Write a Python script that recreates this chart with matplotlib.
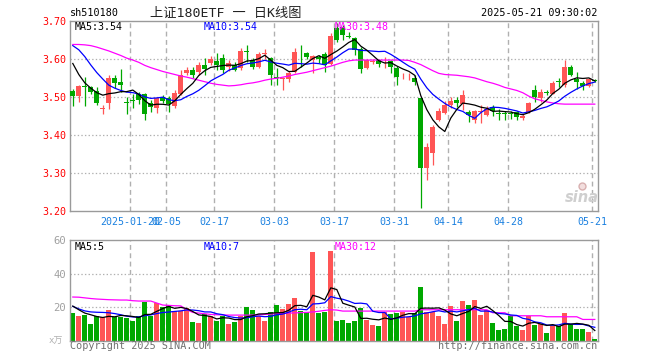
import numpy as np
import pandas as pd
import matplotlib
matplotlib.use("Agg")
import matplotlib.pyplot as plt

# ---------------- data ----------------
opens = [3.517, 3.503, 3.530, 3.526, 3.517, 3.468, 3.484, 3.552, 3.541, 3.488,
         3.494, 3.510, 3.508, 3.484, 3.472, 3.501, 3.498, 3.476, 3.508, 3.563,
         3.572, 3.567, 3.585, 3.590, 3.595, 3.603, 3.580, 3.585, 3.576, 3.621,
         3.598, 3.580, 3.614, 3.603, 3.554, 3.548, 3.548, 3.567, 3.615, 3.616,
         3.598, 3.605, 3.614, 3.587, 3.682, 3.686, 3.661, 3.656, 3.628, 3.576,
         3.594, 3.598, 3.592, 3.595, 3.578, 3.555, 3.555, 3.550, 3.497, 3.313,
         3.353, 3.440, 3.458, 3.480, 3.493, 3.482, 3.462, 3.440, 3.461, 3.453,
         3.475, 3.459, 3.459, 3.459, 3.462, 3.445, 3.462, 3.520, 3.497, 3.514,
         3.510, 3.543, 3.532, 3.581, 3.548, 3.537, 3.530, 3.545]
highs = [3.522, 3.532, 3.553, 3.530, 3.528, 3.480, 3.558, 3.560, 3.574, 3.502,
         3.508, 3.515, 3.512, 3.493, 3.502, 3.505, 3.503, 3.520, 3.572, 3.580,
         3.580, 3.592, 3.603, 3.608, 3.616, 3.614, 3.597, 3.592, 3.629, 3.638,
         3.603, 3.618, 3.626, 3.607, 3.576, 3.554, 3.568, 3.629, 3.638, 3.620,
         3.612, 3.612, 3.618, 3.670, 3.696, 3.690, 3.672, 3.658, 3.633, 3.600,
         3.600, 3.601, 3.605, 3.598, 3.582, 3.565, 3.563, 3.559, 3.497, 3.379,
         3.427, 3.472, 3.490, 3.500, 3.500, 3.520, 3.466, 3.466, 3.480, 3.476,
         3.480, 3.470, 3.465, 3.464, 3.465, 3.455, 3.488, 3.533, 3.523, 3.520,
         3.542, 3.552, 3.597, 3.584, 3.567, 3.542, 3.551, 3.548]
lows = [3.477, 3.488, 3.477, 3.510, 3.480, 3.455, 3.470, 3.525, 3.515, 3.455,
        3.472, 3.483, 3.440, 3.462, 3.459, 3.485, 3.462, 3.471, 3.505, 3.558,
        3.552, 3.560, 3.560, 3.585, 3.572, 3.565, 3.570, 3.568, 3.572, 3.594,
        3.575, 3.576, 3.600, 3.533, 3.533, 3.519, 3.541, 3.565, 3.580, 3.600,
        3.565, 3.590, 3.567, 3.585, 3.645, 3.650, 3.655, 3.612, 3.563, 3.574,
        3.588, 3.580, 3.578, 3.563, 3.533, 3.548, 3.545, 3.533, 3.208, 3.282,
        3.322, 3.438, 3.455, 3.471, 3.474, 3.467, 3.436, 3.432, 3.432, 3.450,
        3.452, 3.440, 3.440, 3.442, 3.440, 3.440, 3.460, 3.488, 3.487, 3.505,
        3.508, 3.528, 3.528, 3.555, 3.523, 3.520, 3.528, 3.540]
closes = [3.504, 3.530, 3.528, 3.515, 3.484, 3.471, 3.550, 3.537, 3.532, 3.485,
          3.491, 3.492, 3.455, 3.474, 3.497, 3.490, 3.482, 3.512, 3.558, 3.572,
          3.560, 3.585, 3.575, 3.602, 3.584, 3.572, 3.591, 3.572, 3.623, 3.619,
          3.580, 3.614, 3.617, 3.559, 3.550, 3.550, 3.563, 3.620, 3.613, 3.605,
          3.609, 3.600, 3.586, 3.662, 3.651, 3.664, 3.659, 3.624, 3.575, 3.598,
          3.596, 3.588, 3.594, 3.581, 3.553, 3.557, 3.557, 3.541, 3.313, 3.370,
          3.423, 3.464, 3.480, 3.490, 3.484, 3.506, 3.453, 3.464, 3.463, 3.470,
          3.465, 3.457, 3.457, 3.457, 3.449, 3.451, 3.484, 3.502, 3.515, 3.512,
          3.537, 3.540, 3.581, 3.559, 3.539, 3.529, 3.547, 3.542]
volumes = [16.7, 14.9, 15.5, 10.2, 14.9, 13.9, 18.3, 14.1, 14.3, 13.7,
           12.0, 14.9, 23.3, 14.9, 22.7, 20.3, 21.1, 17.7, 17.7, 19.3,
           11.4, 10.8, 16.1, 14.7, 12.0, 14.9, 10.0, 11.4, 14.9, 20.3,
           18.3, 14.9, 12.0, 16.9, 21.3, 18.9, 21.9, 25.7, 17.9, 16.9,
           53.2, 16.7, 17.3, 53.8, 11.8, 12.4, 10.8, 11.8, 19.7, 12.4,
           9.4, 9.0, 17.3, 15.7, 16.7, 17.3, 13.9, 16.7, 32.3, 17.3,
           16.9, 14.9, 10.0, 20.9, 11.8, 23.7, 21.3, 24.3, 15.3, 18.3,
           10.8, 6.4, 7.0, 14.9, 9.0, 6.4, 14.9, 9.4, 10.0, 4.8,
           9.0, 9.0, 16.7, 10.0, 7.0, 7.0, 5.4, 1.0]

# moving-average values before the window fills
ma5_head = [3.589, 3.560, 3.538, 3.524]
ma10_head = [3.636, 3.625, 3.607, 3.585, 3.565, 3.548, 3.532, 3.524, 3.518]
ma30 = [3.639, 3.639, 3.638, 3.636, 3.632, 3.627, 3.622, 3.616, 3.610, 3.603,
        3.598, 3.592, 3.584, 3.578, 3.573, 3.568, 3.564, 3.560, 3.556, 3.553,
        3.549, 3.545, 3.541, 3.537, 3.534, 3.532, 3.530, 3.531, 3.533, 3.536,
        3.538, 3.541, 3.545, 3.548, 3.550, 3.553, 3.556, 3.560, 3.563, 3.566,
        3.570, 3.574, 3.578, 3.582, 3.587, 3.592, 3.596, 3.598, 3.598, 3.598,
        3.598, 3.598, 3.598, 3.598, 3.598, 3.598, 3.597, 3.592, 3.586, 3.578,
        3.570, 3.563, 3.560, 3.559, 3.558, 3.556, 3.554, 3.551, 3.546, 3.541,
        3.537, 3.532, 3.526, 3.522, 3.518, 3.512, 3.503, 3.496, 3.492, 3.488,
        3.485, 3.483, 3.482, 3.482, 3.482, 3.482, 3.482, 3.482]
vol_ma5_head = [20.7, 18.5, 16.5, 15.5]
vol_ma10_head = [20.5, 19.0, 17.8, 17.2, 17.0, 16.9, 16.7, 16.2, 15.5]
vol_ma30 = [26.1, 26.0, 25.6, 25.2, 24.9, 24.7, 24.5, 24.4, 24.3, 24.3,
            23.9, 23.7, 23.7, 23.7, 22.5, 21.3, 21.1, 20.9, 20.8, 18.5,
            16.9, 16.5, 16.1, 15.7, 15.5, 15.4, 15.3, 15.3, 15.3, 15.3,
            15.3, 15.5, 15.7, 15.9, 16.1, 16.3, 16.5, 16.6, 16.8, 16.9,
            17.2, 17.6, 18.1, 18.5, 18.3, 17.7, 17.7, 17.7, 17.7, 17.7,
            17.7, 17.7, 17.7, 17.7, 17.7, 17.7, 17.7, 17.7, 18.5, 18.5,
            18.5, 18.5, 18.5, 18.5, 18.5, 18.5, 18.5, 18.5, 18.5, 18.5,
            16.7, 16.7, 16.7, 14.9, 14.9, 14.9, 14.9, 14.9, 14.9, 14.3,
            14.3, 14.3, 14.3, 14.3, 14.3, 12.7, 12.7, 12.7]

tick_index = [10, 16, 24, 34, 44, 54, 63, 73, 87]
tick_labels = ["2025-01-20", "02-05", "02-17", "03-03", "03-17",
               "03-31", "04-14", "04-28", "05-21"]
price_ticks = [3.20, 3.30, 3.40, 3.50, 3.60, 3.70]
vol_ticks = [20, 40, 60]

code = "sh510180"
title = "上证180ETF 一 日K线图"
stamp = "2025-05-21 09:30:02"
price_ma_labels = ["MA5:3.54", "MA10:3.54", "MA30:3.48"]
vol_ma_labels = ["MA5:5", "MA10:7", "MA30:12"]

# ---------------- derived ----------------
o = np.array(opens); h = np.array(highs); l = np.array(lows); c = np.array(closes)
v = np.array(volumes)
n = len(c)
x = np.arange(n)
cs = pd.Series(c)
ma5 = cs.rolling(5).mean().to_numpy(); ma5[:len(ma5_head)] = ma5_head
ma10 = cs.rolling(10).mean().to_numpy(); ma10[:len(ma10_head)] = ma10_head
vs = pd.Series(v)
vma5 = vs.rolling(5).mean().to_numpy(); vma5[:len(vol_ma5_head)] = vol_ma5_head
vma10 = vs.rolling(10).mean().to_numpy(); vma10[:len(vol_ma10_head)] = vol_ma10_head

RED = "#ff5555"
GREEN = "#00a800"
up = c >= o
col = np.where(up, RED, GREEN)

plt.rcParams["lines.scale_dashes"] = False
MONO = "DejaVu Sans Mono"
MIX = ["DejaVu Sans Mono", "Noto Sans CJK SC"]

W, H = 660, 360
fig = plt.figure(figsize=(W / 100, H / 100), dpi=100)
fig.patch.set_facecolor("white")


def px_axes(left, top, right, bottom):
    return fig.add_axes([left / W, 1 - bottom / H, (right - left) / W, (bottom - top) / H])


def ftext(px, py, s, **kw):
    fig.text(px / W, 1 - py / H, s, **kw)


axp = px_axes(70.3, 21.3, 597.7, 211.3)
axv = px_axes(70.3, 240.3, 597.7, 340.7)
XL = (-0.417, 87.483)
bw = 0.83

for ax in (axp, axv):
    ax.set_xlim(*XL)
    for s in ax.spines.values():
        s.set_color("#9a9a9a")
        s.set_linewidth(1.0)
    ax.tick_params(length=0)
    for t in tick_index:
        ax.axvline(t - 0.417, color="#b0b0b0", lw=1.0, ls=(0, (3.5, 2.5)), zorder=0)

# price panel
axp.set_ylim(3.20, 3.70)
for yv in price_ticks[1:-1]:
    axp.axhline(yv, color="#b0b0b0", lw=0.9, ls=(0, (1, 1.6)), zorder=0)
axp.vlines(x, l, h, colors=col, lw=0.9, zorder=2)
body_lo = np.minimum(o, c)
body_h = np.abs(c - o)
doji = body_h < 0.0015
axp.bar(x[~doji], body_h[~doji], bottom=body_lo[~doji], width=bw, color=col[~doji],
        linewidth=0, zorder=3, antialiased=False)
axp.hlines(c[doji], x[doji] - bw / 2, x[doji] + bw / 2, colors=col[doji], lw=1.0, zorder=3)
axp.plot(x, ma30, color="#ff00ff", lw=0.9, zorder=4)
axp.plot(x, ma10, color="#0000ff", lw=0.9, zorder=4)
axp.plot(x, ma5, color="#000000", lw=0.9, zorder=5)
axp.set_yticks(price_ticks)
axp.set_yticklabels(["%.2f" % t for t in price_ticks], color="#ff0000",
                    fontfamily=MONO, fontsize=7.2)
axp.tick_params(axis="y", pad=3)
axp.set_xticks([t - 0.417 for t in tick_index])
axp.set_xticklabels(tick_labels, color="#1a80e0", fontfamily=MONO, fontsize=7.2)
axp.tick_params(axis="x", pad=4)

# sina watermark logo (eye) drawn as a marker, not text
axp.plot([84.9], [3.266], marker="o", ms=5, mfc="#f2dede", mec="#d8b0b0", mew=1.0,
         zorder=1, clip_on=False)

# volume panel
axv.set_ylim(0, 60)
for yv in vol_ticks[:-1]:
    axv.axhline(yv, color="#b0b0b0", lw=0.9, ls=(0, (1, 1.6)), zorder=0)
axv.bar(x, v, width=bw, color=col, linewidth=0, zorder=2, antialiased=False)
axv.plot(x, vol_ma30, color="#ff00ff", lw=0.9, zorder=4)
axv.plot(x, vma10, color="#0000ff", lw=0.9, zorder=4)
axv.plot(x, vma5, color="#000000", lw=0.9, zorder=5)
axv.set_yticks(vol_ticks)
axv.set_yticklabels([str(t) for t in vol_ticks], color="#a0a0a0",
                    fontfamily=MONO, fontsize=7.6)
axv.tick_params(axis="y", pad=3)
axv.set_xticks([])

# texts
ftext(70, 13.5, code, fontfamily=MONO, fontsize=7.3, va="center", ha="left")
ftext(150, 13.5, title, fontfamily=MIX, fontsize=9.5, va="center", ha="left", color="#222222")
ftext(597, 13.5, stamp, fontfamily=MONO, fontsize=7.3, va="center", ha="right")
ftext(75, 26.5, price_ma_labels[0], fontfamily=MONO, fontsize=7.2, va="center", color="#000000")
ftext(204, 26.5, price_ma_labels[1], fontfamily=MONO, fontsize=7.2, va="center", color="#0000ff")
ftext(335, 26.5, price_ma_labels[2], fontfamily=MONO, fontsize=7.2, va="center", color="#ff00ff")
ftext(75, 246.5, vol_ma_labels[0], fontfamily=MONO, fontsize=7.2, va="center", color="#000000")
ftext(204, 246.5, vol_ma_labels[1], fontfamily=MONO, fontsize=7.2, va="center", color="#0000ff")
ftext(335, 246.5, vol_ma_labels[2], fontfamily=MONO, fontsize=7.2, va="center", color="#ff00ff")
ftext(70, 346, "Copyright 2025 SINA.COM", fontfamily=MONO, fontsize=7.3, va="center",
      ha="left", color="#707070")
ftext(597, 346, "http://finance.sina.com.cn", fontfamily=MONO, fontsize=7.3, va="center",
      ha="right", color="#707070")
ftext(63, 341, "x万", fontfamily=MIX, fontsize=6.5, va="center", ha="right", color="#b0b0b0")
ftext(582, 197, "sina", fontfamily="DejaVu Sans", fontsize=10.5, fontweight="bold",
      fontstyle="italic", va="center", ha="center", color="#cfcfcf")

fig.savefig("out.png", dpi=100, facecolor="white")
